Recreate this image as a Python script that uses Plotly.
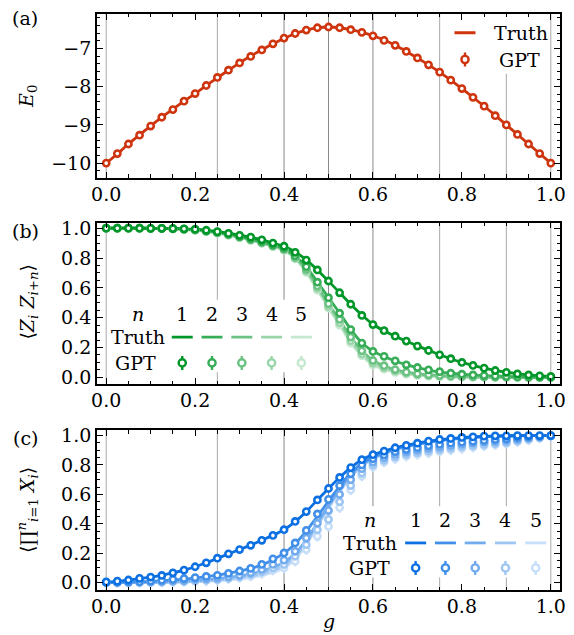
import plotly.graph_objects as go

# ---------------- data ----------------
G = [0.0, 0.025, 0.05, 0.075, 0.1, 0.125, 0.15, 0.175, 0.2, 0.225,
     0.25, 0.275, 0.3, 0.325, 0.35, 0.375, 0.4, 0.425, 0.45, 0.475,
     0.5, 0.525, 0.55, 0.575, 0.6, 0.625, 0.65, 0.675, 0.7, 0.725,
     0.75, 0.775, 0.8, 0.825, 0.85, 0.875, 0.9, 0.925, 0.95, 0.975, 1.0]

E0_TRUTH = [-10.0, -9.76, -9.50, -9.26, -9.03, -8.80, -8.59, -8.38, -8.18, -7.97,
            -7.77, -7.57, -7.38, -7.20, -7.04, -6.88, -6.74, -6.61, -6.52, -6.46,
            -6.44, -6.46, -6.51, -6.58, -6.67, -6.78, -6.92, -7.08, -7.25, -7.43,
            -7.62, -7.83, -8.05, -8.28, -8.51, -8.75, -9.00, -9.25, -9.50, -9.75, -10.0]
E0_GPT = [-10.0, -9.75, -9.50, -9.27, -9.03, -8.80, -8.60, -8.38, -8.18, -7.97,
          -7.76, -7.57, -7.38, -7.21, -7.04, -6.88, -6.73, -6.61, -6.52, -6.46,
          -6.44, -6.46, -6.51, -6.58, -6.67, -6.79, -6.92, -7.08, -7.25, -7.43,
          -7.62, -7.83, -8.05, -8.28, -8.51, -8.76, -9.00, -9.25, -9.50, -9.75, -10.0]

ZZ1_TRUTH = [1.0, 1.0, 1.0, 1.0, 0.999, 0.999, 0.998, 0.996, 0.993, 0.987,
             0.978, 0.966, 0.953, 0.939, 0.922, 0.901, 0.878, 0.84, 0.788, 0.72,
             0.645, 0.568, 0.49, 0.418, 0.356, 0.312, 0.275, 0.242, 0.211, 0.181,
             0.152, 0.125, 0.101, 0.08, 0.062, 0.047, 0.034, 0.024, 0.016, 0.01, 0.006]
ZZ2_TRUTH = [1.0, 1.0, 1.0, 1.0, 0.999, 0.998, 0.997, 0.994, 0.99, 0.983,
             0.973, 0.96, 0.945, 0.928, 0.909, 0.888, 0.865, 0.815, 0.742, 0.64,
             0.535, 0.431, 0.322, 0.232, 0.175, 0.14, 0.11, 0.085, 0.065, 0.049,
             0.037, 0.028, 0.021, 0.016, 0.012, 0.009, 0.006, 0.004, 0.003, 0.002, 0.001]
ZZ3_TRUTH = [1.0, 1.0, 1.0, 1.0, 0.999, 0.998, 0.996, 0.993, 0.988, 0.98,
             0.97, 0.957, 0.941, 0.924, 0.905, 0.884, 0.86, 0.805, 0.725, 0.615,
             0.492, 0.385, 0.27, 0.18, 0.113, 0.077, 0.052, 0.035, 0.024, 0.017,
             0.012, 0.009, 0.006, 0.004, 0.003, 0.002, 0.001, 0.001, 0.0, 0.0, 0.0]
ZZ4_TRUTH = [1.0, 1.0, 1.0, 1.0, 0.999, 0.998, 0.996, 0.992, 0.987, 0.979,
             0.968, 0.955, 0.939, 0.921, 0.902, 0.881, 0.856, 0.8, 0.715, 0.6,
             0.478, 0.365, 0.247, 0.157, 0.097, 0.065, 0.043, 0.028, 0.018, 0.012,
             0.008, 0.006, 0.004, 0.003, 0.002, 0.001, 0.001, 0.0, 0.0, 0.0, 0.0]
ZZ5_TRUTH = [1.0, 1.0, 1.0, 1.0, 0.999, 0.998, 0.995, 0.991, 0.986, 0.977,
             0.966, 0.953, 0.937, 0.919, 0.899, 0.878, 0.852, 0.795, 0.705, 0.585,
             0.465, 0.352, 0.231, 0.145, 0.083, 0.055, 0.034, 0.021, 0.013, 0.008,
             0.005, 0.003, 0.002, 0.001, 0.001, 0.0, 0.0, 0.0, 0.0, 0.0, 0.0]

ZZ1_GPT = [1.0, 1.0, 1.0, 1.0, 0.999, 0.999, 0.998, 0.996, 0.993, 0.986,
           0.977, 0.965, 0.952, 0.94, 0.922, 0.9, 0.879, 0.838, 0.786, 0.72,
           0.646, 0.567, 0.49, 0.415, 0.354, 0.313, 0.276, 0.243, 0.21, 0.18,
           0.151, 0.125, 0.1, 0.08, 0.062, 0.046, 0.034, 0.023, 0.016, 0.01, 0.006]
ZZ2_GPT = [1.0, 1.0, 1.0, 1.0, 0.999, 0.998, 0.997, 0.994, 0.99, 0.982,
           0.973, 0.96, 0.944, 0.928, 0.909, 0.887, 0.866, 0.816, 0.742, 0.638,
           0.534, 0.43, 0.32, 0.23, 0.174, 0.141, 0.111, 0.084, 0.066, 0.05,
           0.038, 0.028, 0.021, 0.016, 0.012, 0.009, 0.006, 0.004, 0.003, 0.002, 0.001]
ZZ3_GPT = [1.0, 1.0, 1.0, 1.0, 0.999, 0.998, 0.996, 0.993, 0.988, 0.98,
           0.97, 0.956, 0.941, 0.924, 0.904, 0.883, 0.86, 0.804, 0.724, 0.613,
           0.494, 0.388, 0.27, 0.178, 0.113, 0.078, 0.052, 0.035, 0.024, 0.017,
           0.012, 0.009, 0.006, 0.004, 0.003, 0.002, 0.001, 0.001, 0.0, 0.0, 0.0]
ZZ4_GPT = [1.0, 1.0, 1.0, 1.0, 0.999, 0.998, 0.996, 0.992, 0.987, 0.979,
           0.968, 0.955, 0.938, 0.92, 0.901, 0.88, 0.855, 0.8, 0.713, 0.598,
           0.476, 0.366, 0.246, 0.157, 0.096, 0.065, 0.043, 0.028, 0.018, 0.012,
           0.008, 0.006, 0.004, 0.003, 0.002, 0.001, 0.001, 0.0, 0.0, 0.0, 0.0]
ZZ5_GPT = [1.0, 1.0, 1.0, 1.0, 0.999, 0.998, 0.995, 0.991, 0.986, 0.977,
           0.966, 0.952, 0.937, 0.918, 0.898, 0.877, 0.851, 0.794, 0.703, 0.584,
           0.464, 0.35, 0.23, 0.145, 0.084, 0.055, 0.034, 0.021, 0.013, 0.008,
           0.005, 0.003, 0.002, 0.001, 0.001, 0.0, 0.0, 0.0, 0.0, 0.0, 0.0]

X1_TRUTH = [0.005, 0.009, 0.018, 0.028, 0.038, 0.05, 0.066, 0.085, 0.108, 0.135,
            0.165, 0.195, 0.225, 0.255, 0.288, 0.322, 0.36, 0.415, 0.482, 0.562,
            0.64, 0.715, 0.782, 0.835, 0.87, 0.895, 0.917, 0.934, 0.948, 0.961,
            0.972, 0.98, 0.986, 0.991, 0.995, 0.997, 0.998, 0.999, 1.0, 1.0, 1.0]
X2_TRUTH = [0.001, 0.002, 0.004, 0.006, 0.009, 0.013, 0.018, 0.024, 0.032, 0.041,
            0.051, 0.064, 0.079, 0.097, 0.12, 0.155, 0.2, 0.265, 0.35, 0.45,
            0.555, 0.655, 0.745, 0.81, 0.855, 0.885, 0.91, 0.929, 0.944, 0.957,
            0.968, 0.977, 0.984, 0.989, 0.993, 0.996, 0.998, 0.999, 1.0, 1.0, 1.0]
X3_TRUTH = [0.0, 0.001, 0.001, 0.002, 0.003, 0.005, 0.007, 0.01, 0.014, 0.019,
            0.026, 0.035, 0.046, 0.06, 0.079, 0.104, 0.138, 0.2, 0.29, 0.405,
            0.525, 0.635, 0.73, 0.8, 0.848, 0.88, 0.906, 0.926, 0.942, 0.955,
            0.966, 0.975, 0.982, 0.988, 0.992, 0.995, 0.997, 0.999, 1.0, 1.0, 1.0]
X4_TRUTH = [0.0, 0.0, 0.001, 0.001, 0.002, 0.003, 0.004, 0.006, 0.009, 0.013,
            0.018, 0.025, 0.034, 0.046, 0.062, 0.085, 0.117, 0.178, 0.272, 0.392,
            0.515, 0.625, 0.722, 0.795, 0.845, 0.878, 0.904, 0.924, 0.94, 0.953,
            0.964, 0.973, 0.981, 0.987, 0.991, 0.994, 0.997, 0.998, 0.999, 1.0, 1.0]
X5_TRUTH = [0.0, 0.0, 0.0, 0.001, 0.001, 0.002, 0.003, 0.004, 0.006, 0.009,
            0.013, 0.018, 0.025, 0.035, 0.049, 0.07, 0.1, 0.16, 0.258, 0.382,
            0.505, 0.617, 0.716, 0.79, 0.842, 0.876, 0.902, 0.922, 0.938, 0.951,
            0.962, 0.972, 0.98, 0.986, 0.99, 0.994, 0.996, 0.998, 0.999, 1.0, 1.0]

X1_GPT = [0.005, 0.01, 0.018, 0.029, 0.038, 0.049, 0.067, 0.085, 0.108, 0.135,
          0.166, 0.196, 0.225, 0.254, 0.288, 0.321, 0.36, 0.416, 0.483, 0.562,
          0.64, 0.715, 0.782, 0.836, 0.87, 0.894, 0.917, 0.933, 0.948, 0.962,
          0.973, 0.98, 0.987, 0.991, 0.996, 0.998, 0.998, 1.0, 1.0, 1.0, 1.0]
X2_GPT = [0.002, 0.003, 0.005, 0.007, 0.011, 0.016, 0.022, 0.028, 0.034, 0.042,
          0.05, 0.063, 0.079, 0.097, 0.124, 0.162, 0.202, 0.27, 0.355, 0.467,
          0.566, 0.66, 0.74, 0.8, 0.843, 0.868, 0.89, 0.905, 0.918, 0.93,
          0.94, 0.948, 0.955, 0.961, 0.967, 0.973, 0.978, 0.985, 0.99, 0.995, 1.0]
X3_GPT = [0.001, 0.001, 0.002, 0.003, 0.005, 0.007, 0.012, 0.014, 0.022, 0.026,
          0.031, 0.04, 0.05, 0.067, 0.09, 0.124, 0.153, 0.213, 0.303, 0.404,
          0.49, 0.6, 0.7, 0.775, 0.82, 0.85, 0.872, 0.888, 0.9, 0.912,
          0.922, 0.931, 0.94, 0.948, 0.955, 0.961, 0.966, 0.974, 0.982, 0.99, 0.998]
X4_GPT = [0.0, 0.001, 0.001, 0.002, 0.003, 0.005, 0.008, 0.01, 0.014, 0.018,
          0.022, 0.031, 0.04, 0.056, 0.074, 0.1, 0.124, 0.18, 0.258, 0.36,
          0.43, 0.55, 0.66, 0.745, 0.8, 0.832, 0.855, 0.872, 0.884, 0.895,
          0.905, 0.915, 0.924, 0.932, 0.94, 0.946, 0.952, 0.963, 0.975, 0.986, 0.997]
X5_GPT = [0.0, 0.0, 0.001, 0.001, 0.002, 0.003, 0.005, 0.007, 0.01, 0.013,
          0.018, 0.027, 0.034, 0.045, 0.063, 0.085, 0.1, 0.146, 0.225, 0.315,
          0.382, 0.51, 0.63, 0.725, 0.787, 0.82, 0.843, 0.86, 0.872, 0.882,
          0.892, 0.902, 0.912, 0.921, 0.93, 0.938, 0.946, 0.958, 0.97, 0.983, 0.996]

E0_ERR = 0.04
ZZ_ERR = [0.008, 0.008, 0.01, 0.01, 0.012]
X_ERR = [0.01, 0.015, 0.02, 0.028, 0.035]

N_LABELS = ["1", "2", "3", "4", "5"]
X_TICKS = [0.0, 0.2, 0.4, 0.6, 0.8, 1.0]
E_TICKS = [-10, -9, -8, -7]
P_TICKS = [0.0, 0.2, 0.4, 0.6, 0.8, 1.0]
GRID_DARK = [0.4, 0.5, 0.6]
GRID_LIGHT = [0.0, 0.25, 0.75, 0.9, 1.0]

for arr in [E0_TRUTH, E0_GPT, ZZ1_TRUTH, ZZ2_TRUTH, ZZ3_TRUTH, ZZ4_TRUTH, ZZ5_TRUTH,
            ZZ1_GPT, ZZ2_GPT, ZZ3_GPT, ZZ4_GPT, ZZ5_GPT, X1_TRUTH, X2_TRUTH, X3_TRUTH,
            X4_TRUTH, X5_TRUTH, X1_GPT, X2_GPT, X3_GPT, X4_GPT, X5_GPT]:
    assert len(arr) == len(G), len(arr)

ZZ_TRUTH = [ZZ1_TRUTH, ZZ2_TRUTH, ZZ3_TRUTH, ZZ4_TRUTH, ZZ5_TRUTH]
ZZ_GPT = [ZZ1_GPT, ZZ2_GPT, ZZ3_GPT, ZZ4_GPT, ZZ5_GPT]
X_TRUTH = [X1_TRUTH, X2_TRUTH, X3_TRUTH, X4_TRUTH, X5_TRUTH]
X_GPT = [X1_GPT, X2_GPT, X3_GPT, X4_GPT, X5_GPT]

# ---------------- style ----------------
RED = (206, 52, 14)
GREEN = (0, 150, 40)
BLUE = (12, 112, 226)
FADE = [0.0, 0.22, 0.42, 0.6, 0.77]
FONT = "DejaVu Serif"
FS = 19


def shade(rgb, f):
    r, g, b = [round(c + (255 - c) * f) for c in rgb]
    return f"rgb({r},{g},{b})"


fig = go.Figure()


def add_lines(truth, col, xa, ya):
    fig.add_trace(go.Scatter(x=G, y=truth, mode="lines",
                             line=dict(color=col, width=2.8, shape="spline", smoothing=0.5),
                             xaxis=xa, yaxis=ya, showlegend=False, hoverinfo="skip"))


def add_points(gpt, err, col, xa, ya):
    fig.add_trace(go.Scatter(x=G, y=gpt, mode="markers",
                             marker=dict(symbol="circle", size=6.2, color="white",
                                         line=dict(color=col, width=2.6)),
                             error_y=dict(type="constant", value=err, color=col,
                                          thickness=2.4, width=0),
                             xaxis=xa, yaxis=ya, showlegend=False))


# panel (a)
add_lines(E0_TRUTH, shade(RED, 0), "x", "y")
add_points(E0_GPT, E0_ERR, shade(RED, 0), "x", "y")
# panel (b)
for k in range(4, -1, -1):
    add_lines(ZZ_TRUTH[k], shade(GREEN, FADE[k]), "x2", "y2")
for k in range(4, -1, -1):
    add_points(ZZ_GPT[k], ZZ_ERR[k], shade(GREEN, FADE[k]), "x2", "y2")
# panel (c)
for k in range(4, -1, -1):
    add_lines(X_TRUTH[k], shade(BLUE, FADE[k]), "x3", "y3")
for k in range(4, -1, -1):
    add_points(X_GPT[k], X_ERR[k], shade(BLUE, FADE[k]), "x3", "y3")

# ---------------- axes ----------------
XR = [-0.0207, 1.0207]


def xaxis_cfg(anchor):
    return dict(range=XR, anchor=anchor, tickvals=X_TICKS,
                ticktext=[f"{v:.1f}" for v in X_TICKS],
                ticks="inside", ticklen=6, tickwidth=1.2, tickcolor="black",
                showline=True, linecolor="black", linewidth=1.8, mirror="ticks",
                showgrid=False, zeroline=False, ticklabelstandoff=-2,
                ticklabeloverflow="allow",
                minor=dict(dtick=0.05, tick0=0, ticks="inside", ticklen=3.5,
                           tickwidth=1, tickcolor="black", showgrid=False),
                tickfont=dict(family=FONT, size=FS, color="black"))


def yaxis_cfg(anchor, domain, rng, tickvals, ticktext, minor_dtick):
    return dict(range=rng, anchor=anchor, domain=domain, tickvals=tickvals,
                ticktext=ticktext,
                ticks="inside", ticklen=6, tickwidth=1.2, tickcolor="black",
                showline=True, linecolor="black", linewidth=1.8, mirror="ticks",
                showgrid=False, zeroline=False, ticklabelstandoff=0,
                minor=dict(dtick=minor_dtick, tick0=0, ticks="inside", ticklen=3.5,
                           tickwidth=1, tickcolor="black", showgrid=False),
                tickfont=dict(family=FONT, size=FS, color="black"))


fig.update_layout(
    width=574, height=635,
    margin=dict(l=97, r=8, t=10, b=45),
    paper_bgcolor="white", plot_bgcolor="white",
    font=dict(family=FONT, size=FS, color="black"),
    showlegend=False,
    xaxis=xaxis_cfg("y"),
    xaxis2=xaxis_cfg("y2"),
    xaxis3=xaxis_cfg("y3"),
    yaxis=yaxis_cfg("x", [0.7155, 1.0], [-10.386, -6.10], E_TICKS,
                    [f"\u2212{abs(v)}" for v in E_TICKS], 0.2),
    yaxis2=yaxis_cfg("x2", [0.357, 0.638], [-0.047, 1.038], P_TICKS,
                     [f"{v:.1f}" for v in P_TICKS], 0.05),
    yaxis3=yaxis_cfg("x3", [0.0, 0.2776], [-0.05, 1.037], P_TICKS,
                     [f"{v:.1f}" for v in P_TICKS], 0.05),
)

shapes = []
annotations = []
for xr, yr in [("x", "y"), ("x2", "y2"), ("x3", "y3")]:
    for gv in GRID_LIGHT:
        shapes.append(dict(type="line", xref=xr, yref=f"{yr} domain", x0=gv, x1=gv,
                           y0=0, y1=1, line=dict(color="#a8a8a8", width=1), layer="below"))
    for gv in GRID_DARK:
        shapes.append(dict(type="line", xref=xr, yref=f"{yr} domain", x0=gv, x1=gv,
                           y0=0, y1=1, line=dict(color="#8a8a8a", width=1), layer="below"))

# legend boxes (white, hide grid lines)
LEG_BOX = {"a": (0.77, 0.99, -7.66, -6.10),
           "b": (0.008, 0.475, 0.035, 0.52),
           "c": (0.56, 0.993, 0.035, 0.52)}
for key, (xr, yr) in zip(["a", "b", "c"], [("x", "y"), ("x2", "y2"), ("x3", "y3")]):
    x0, x1, y0, y1 = LEG_BOX[key]
    shapes.append(dict(type="rect", xref=xr, yref=yr, x0=x0, x1=x1, y0=y0, y1=y1,
                       fillcolor="white", line=dict(width=0), layer="below"))


def legend_line(xr, yr, cx, cy, col):
    shapes.append(dict(type="line", xref=xr, yref=yr, xsizemode="pixel", xanchor=cx,
                       x0=-10.5, x1=10.5, y0=cy, y1=cy,
                       line=dict(color=col, width=2.8), layer="above"))


def legend_marker(xr, yr, cx, cy, col):
    shapes.append(dict(type="line", xref=xr, yref=yr, xsizemode="pixel", xanchor=cx,
                       ysizemode="pixel", yanchor=cy, x0=0, x1=0, y0=-7, y1=7,
                       line=dict(color=col, width=2.4), layer="above"))
    shapes.append(dict(type="circle", xref=xr, yref=yr, xsizemode="pixel", xanchor=cx,
                       ysizemode="pixel", yanchor=cy, x0=-3.6, x1=3.6, y0=-3.6, y1=3.6,
                       fillcolor="white", line=dict(color=col, width=2.4), layer="above"))


def text(xr, yr, x, y, s, size=FS):
    annotations.append(dict(xref=xr, yref=yr, x=x, y=y, text=s, showarrow=False,
                            xanchor="center", yanchor="middle",
                            font=dict(family=FONT, size=size, color="black")))


# panel (a) legend
legend_line("x", "y", 0.807, -6.59, shade(RED, 0))
legend_marker("x", "y", 0.807, -7.29, shade(RED, 0))
text("x", "y", 0.933, -6.59, "Truth")
text("x", "y", 0.93, -7.29, "GPT")

# panel (b) legend
B_CX = [0.171, 0.238, 0.305, 0.372, 0.439]
text("x2", "y2", 0.072, 0.427, "<i>n</i>")
text("x2", "y2", 0.071, 0.27, "Truth")
text("x2", "y2", 0.066, 0.097, "GPT")
for k in range(5):
    text("x2", "y2", B_CX[k], 0.427, N_LABELS[k])
    legend_line("x2", "y2", B_CX[k], 0.27, shade(GREEN, FADE[k]))
    legend_marker("x2", "y2", B_CX[k], 0.097, shade(GREEN, FADE[k]))

# panel (c) legend
C_CX = [0.696, 0.763, 0.830, 0.898, 0.966]
text("x3", "y3", 0.593, 0.427, "<i>n</i>")
text("x3", "y3", 0.594, 0.27, "Truth")
text("x3", "y3", 0.593, 0.10, "GPT")
for k in range(5):
    text("x3", "y3", C_CX[k], 0.427, N_LABELS[k])
    legend_line("x3", "y3", C_CX[k], 0.27, shade(BLUE, FADE[k]))
    legend_marker("x3", "y3", C_CX[k], 0.10, shade(BLUE, FADE[k]))

# panel labels & axis titles (paper coordinates)
text("paper", "paper", -0.155, 0.993, "(a)")
text("paper", "paper", -0.155, 0.6224, "(b)")
text("paper", "paper", -0.155, 0.2638, "(c)")
for y, s in [(0.857, "<i>E</i><sub>0</sub>"),
             (0.50, "\u27e8<i>Z<sub>i</sub></i> <i>Z<sub>i+n</sub></i>\u27e9"),
             (0.138, "\u27e8\u220f<sup><i>n</i></sup><sub><i>i</i>=1</sub> <i>X<sub>i</sub></i>\u27e9")]:
    annotations.append(dict(xref="paper", yref="paper", x=-0.15, y=y, text=s,
                            showarrow=False, textangle=-90, xanchor="center",
                            yanchor="middle",
                            font=dict(family=FONT, size=FS, color="black")))
text("paper", "paper", 0.5, -0.054, "<i>g</i>")

fig.update_layout(shapes=shapes, annotations=annotations)
fig.write_html("out.html", post_script="document.body.style.margin='0px';",
               config={"displayModeBar": False})
